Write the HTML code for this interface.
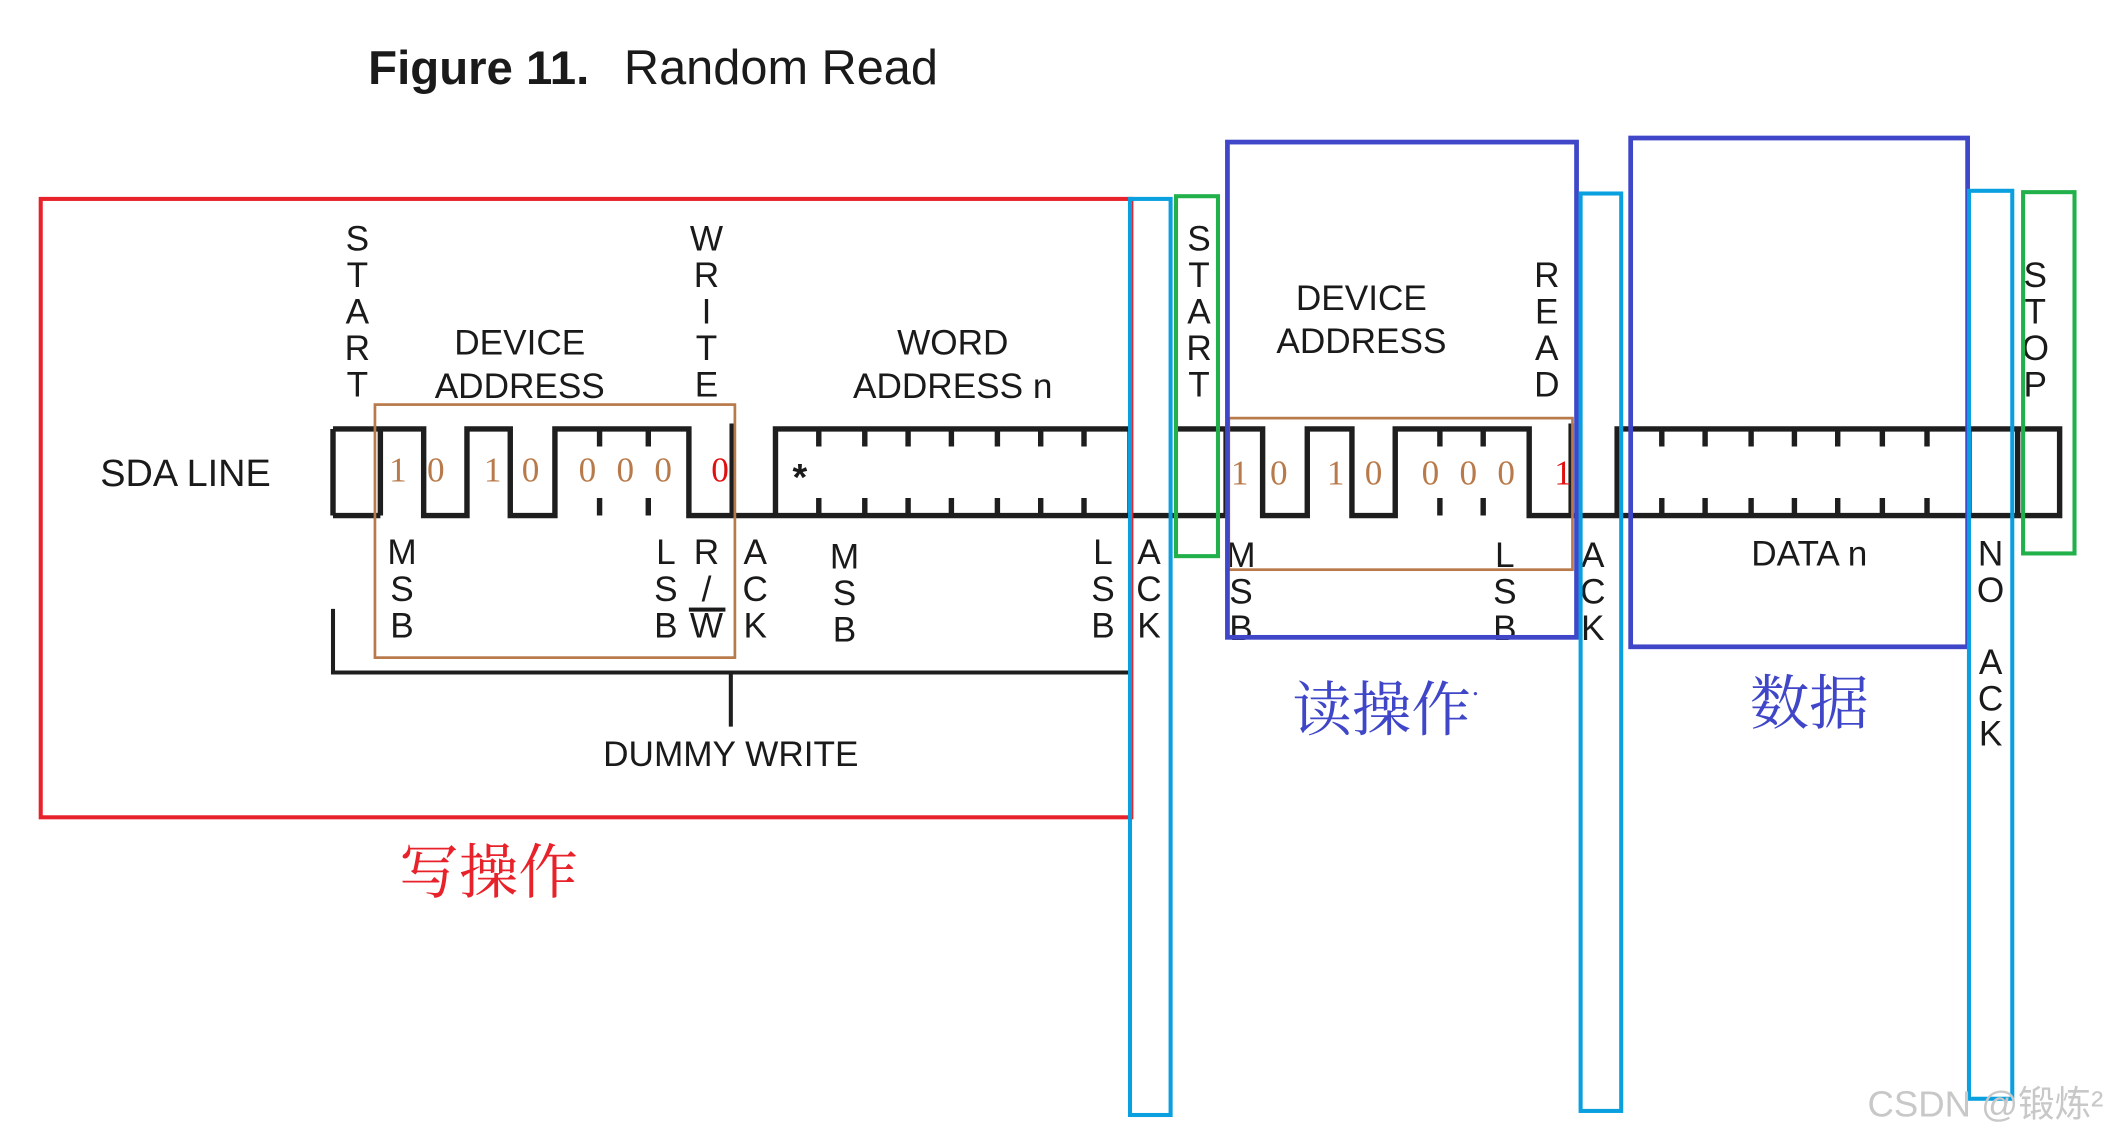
<!DOCTYPE html>
<html><head><meta charset="utf-8"><style>
html,body{margin:0;padding:0;background:#fff;}
svg{display:block;}
text{font-family:"Liberation Sans","Noto Sans CJK SC",sans-serif;fill:#1a1a1a;}
.v text{font-size:26px;text-anchor:middle;}
.d text{font-family:"Liberation Serif",serif;font-size:26px;fill:#b87a4a;text-anchor:middle;}
.d text.r{fill:#e01010;}
</style></head><body>
<svg width="2122" height="1138" viewBox="0 0 1568 841" xmlns="http://www.w3.org/2000/svg">
<rect width="1568" height="841" fill="#fff"/>
<text x="272" y="62" font-size="35" font-weight="bold" fill="#111">Figure 11.</text>
<text x="461" y="62" font-size="36" fill="#111">Random Read</text>
<text x="74" y="359" font-size="28">SDA LINE</text>

<g fill="none" stroke="#1e1e1e" stroke-width="4">
<path d="M246 317 V381 M246 317 H281 M246 381 H281 M281 317 V381 M281 317 H313 V381 H345 V317 H377 V381 H410 V317 H509 V381 H541 M541 313 V381 M541 381 H573 V317 H835 V381 M541 381 H835 H868"/>
<path d="M443 317 v13 M479 317 v13 M443 381 v-13 M479 381 v-13"/>
<path d="M605 317 v13 M639 317 v13 M671 317 v13 M703 317 v13 M737 317 v13 M769 317 v13 M801 317 v13 M605 381 v-13 M639 381 v-13 M671 381 v-13 M703 381 v-13 M737 381 v-13 M769 381 v-13 M801 381 v-13"/>
<path d="M868 317 H906 M868 381 H906 M906 317 V381 M906 317 H933 V381 H966 V317 H999 V381 H1031 V317 H1130 V381 H1161 M1161 313 V381 M1161 381 H1195 V317 H1455 V381 H1491 M1195 381 H1455 M1455 317 H1522 V381 H1491 M1491 317 V381"/>
<path d="M1064 317 v13 M1096 317 v13 M1064 381 v-13 M1096 381 v-13"/>
<path d="M1228 317 v13 M1260 317 v13 M1294 317 v13 M1326 317 v13 M1358 317 v13 M1391 317 v13 M1424 317 v13 M1228 381 v-13 M1260 381 v-13 M1294 381 v-13 M1326 381 v-13 M1358 381 v-13 M1391 381 v-13 M1424 381 v-13"/>
<path stroke-width="3" d="M246 450 V497 H835 M540 497 V537"/>
</g>
<text x="591" y="362" font-size="28" text-anchor="middle" font-weight="bold">*</text>

<g class="d">
<text x="294" y="356">1</text><text x="322" y="356">0</text><text x="364" y="356">1</text><text x="392" y="356">0</text>
<text x="434" y="356">0</text><text x="462" y="356">0</text><text x="490" y="356">0</text><text x="532" y="356" class="r">0</text>
<text x="916" y="358">1</text><text x="945" y="358">0</text><text x="987" y="358">1</text><text x="1015" y="358">0</text>
<text x="1057" y="358">0</text><text x="1085" y="358">0</text><text x="1113" y="358">0</text><text x="1155" y="358" class="r">1</text>
</g>

<g class="v">
<text x="264" y="185">S</text><text x="264" y="212">T</text><text x="264" y="239">A</text><text x="264" y="266">R</text><text x="264" y="293">T</text>
<text x="522" y="185">W</text><text x="522" y="212">R</text><text x="522" y="239">I</text><text x="522" y="266">T</text><text x="522" y="293">E</text>
<text x="384" y="262">DEVICE</text><text x="384" y="294">ADDRESS</text>
<text x="704" y="262">WORD</text><text x="704" y="294">ADDRESS n</text>
<text x="297" y="417">M</text><text x="297" y="444">S</text><text x="297" y="471">B</text>
<text x="492" y="417">L</text><text x="492" y="444">S</text><text x="492" y="471">B</text>
<text x="522" y="417">R</text><text x="522" y="444">/</text><text x="522" y="471">W</text>
<text x="558" y="417">A</text><text x="558" y="444">C</text><text x="558" y="471">K</text>
<text x="624" y="420">M</text><text x="624" y="447">S</text><text x="624" y="474">B</text>
<text x="815" y="417">L</text><text x="815" y="444">S</text><text x="815" y="471">B</text>
<text x="849" y="417">A</text><text x="849" y="444">C</text><text x="849" y="471">K</text>
<text x="886" y="185">S</text><text x="886" y="212">T</text><text x="886" y="239">A</text><text x="886" y="266">R</text><text x="886" y="293">T</text>
<text x="1006" y="229">DEVICE</text><text x="1006" y="261">ADDRESS</text>
<text x="1143" y="212">R</text><text x="1143" y="239">E</text><text x="1143" y="266">A</text><text x="1143" y="293">D</text>
<text x="917" y="419">M</text><text x="917" y="446">S</text><text x="917" y="473">B</text>
<text x="1112" y="419">L</text><text x="1112" y="446">S</text><text x="1112" y="473">B</text>
<text x="1177" y="419">A</text><text x="1177" y="446">C</text><text x="1177" y="473">K</text>
<text x="1337" y="418">DATA n</text>
<text x="1471" y="418">N</text><text x="1471" y="445">O</text><text x="1471" y="498">A</text><text x="1471" y="525">C</text><text x="1471" y="551">K</text>
<text x="1504" y="212">S</text><text x="1504" y="239">T</text><text x="1504" y="266">O</text><text x="1504" y="293">P</text>
<text x="540" y="566">DUMMY WRITE</text>
</g>
<rect x="509" y="449" width="27" height="3" fill="#1a1a1a"/>

<g fill="none" stroke-width="3">
<rect x="30" y="147" width="806" height="457" stroke="#e8222a"/>
<rect x="277" y="299" width="266" height="187" stroke="#b87a4a" stroke-width="2"/>
<rect x="908" y="309" width="254" height="112" stroke="#b87a4a" stroke-width="2"/>
<rect x="907" y="105" width="258" height="366" stroke="#3f46c8" stroke-width="3.5"/>
<rect x="1205" y="102" width="249" height="376" stroke="#3f46c8" stroke-width="3.5"/>
<rect x="835" y="147" width="30" height="677" stroke="#0aa0e0"/>
<rect x="1168" y="143" width="30" height="678" stroke="#0aa0e0"/>
<rect x="1455" y="141" width="32" height="671" stroke="#0aa0e0"/>
<rect x="869" y="145" width="31" height="266" stroke="#22b04a"/>
<rect x="1495" y="142" width="38" height="267" stroke="#22b04a"/>
</g>

<text x="295" y="660" font-size="44" style="fill:#e8222a;font-family:'Noto Serif CJK SC','Noto Sans CJK SC',serif">写操作</text>
<text x="955" y="540" font-size="44" style="fill:#3f46c8;font-family:'Noto Serif CJK SC','Noto Sans CJK SC',serif">读操作<tspan font-size="20" dy="-20">·</tspan></text>
<text x="1293" y="535" font-size="44" style="fill:#3f46c8;font-family:'Noto Serif CJK SC','Noto Sans CJK SC',serif">数据</text>
<text x="1380" y="825" font-size="27" style="fill:#c8c8c8">CSDN @锻炼²</text>
</svg>
</body></html>
